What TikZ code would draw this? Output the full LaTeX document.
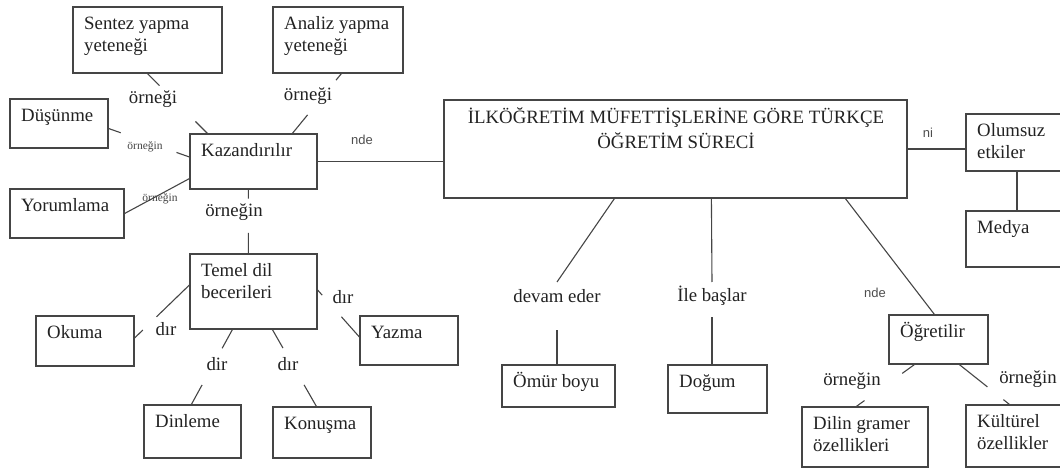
\documentclass[tikz,border=0pt]{standalone}
\usepackage{fontspec}
\setmainfont{Liberation Serif}
\newfontfamily\labelsans{Liberation Sans}
\usetikzlibrary{calc,fit}

\definecolor{ink}{HTML}{222222}
\definecolor{edge}{HTML}{454545}

\tikzset{
  box/.style={draw=edge, line width=1.2pt, inner sep=0pt, fit={#1}},
  boxtext/.style={anchor=north west, inner sep=0pt, align=left, text=ink,
                  font=\fontsize{18.8}{22}\selectfont},
  titletext/.style={anchor=north, inner sep=0pt, align=center, text=ink,
                  font=\fontsize{18.8}{25}\selectfont},
  lbl/.style={text=ink, inner sep=1pt, font=\fontsize{18.8}{22}\selectfont},
  sanslbl/.style={text=ink!80, inner sep=1pt, font=\labelsans\fontsize{13}{15}\selectfont},
  tinylbl/.style={text=ink!85, inner sep=1pt, font=\fontsize{11.5}{13}\selectfont},
  link/.style={draw=edge, line width=1.1pt},
}

% concept box: name, left, top, right, bottom, text (top-left aligned)
\newcommand\conceptbox[6]{%
  \node[box={(#2,#3)(#4,#5)}] (#1) {};
  \node[boxtext] (#1-text) at ($(#2,#3)+(11,6.6)$) {\strut #6};
}
% straight connector with a gap between fractions #3 and #4
\newcommand\gapline[4]{%
  \draw[link] (#1) -- ($(#1)!#3!(#2)$) ($(#1)!#4!(#2)$) -- (#2);
}

\begin{document}
\begin{tikzpicture}[x=1pt,y=-1pt]
\useasboundingbox (0,0) rectangle (1060,470);
\clip (0,0) rectangle (1060,470);

% ---- boxes ----
\conceptbox{sentez}{73}{7}{222}{73}{Sentez yapma\\yeteneği}
\conceptbox{analiz}{273}{7}{403}{73}{Analiz yapma\\yeteneği}
\conceptbox{dusunme}{10}{99}{108}{148}{Düşünme}
\conceptbox{kazan}{190}{134}{317}{189}{Kazandırılır}
\conceptbox{yorum}{10}{189}{124}{238}{Yorumlama}
\conceptbox{temel}{190}{254}{317}{329}{Temel dil\\becerileri}
\conceptbox{okuma}{36}{316}{134}{366}{Okuma}
\conceptbox{yazma}{360}{316}{458}{365}{Yazma}
\conceptbox{dinleme}{144}{405}{241}{458}{Dinleme}
\conceptbox{konusma}{273}{407}{371}{458}{Konuşma}
\conceptbox{omur}{502}{365}{615}{407}{Ömür boyu}
\conceptbox{dogum}{668}{365}{767}{413}{Doğum}
\conceptbox{ogret}{889}{315}{988}{364}{Öğretilir}
\conceptbox{dilin}{802}{407}{928}{467}{Dilin gramer\\özellikleri}
\conceptbox{kultur}{966}{405}{1068}{467}{Kültürel\\özellikler}
\conceptbox{olumsuz}{966}{114}{1068}{171}{Olumsuz\\etkiler}
\conceptbox{medya}{966}{211}{1068}{267}{Medya}

\node[box={(444,100)(907,198)}] (main) {};
\node[titletext] (main-text) at (676,105.5)
  {\strut İLKÖĞRETİM MÜFETTİŞLERİNE GÖRE TÜRKÇE\\ÖĞRETİM SÜRECİ};

% ---- link labels ----
\node[lbl] (l-sentez) at (153,99) {örneği};
\node[lbl] (l-analiz) at (308,96) {örneği};
\node[tinylbl] (l-dusun) at (145,147) {örneğin};
\node[tinylbl] (l-yorum) at (160,199) {örneğin};
\node[lbl] (l-kazan) at (234,212) {örneğin};
\node[sanslbl] (l-nde1) at (362,140) {nde};
\node[sanslbl] (l-ni) at (928,133) {ni};
\node[lbl] (devam) at (557,296) {devam eder};
\node[lbl] (ile) at (712,296) {İle başlar};
\node[sanslbl] (l-nde2) at (875,293) {nde};
\node[lbl] (l-dilin) at (852,381) {örneğin};
\node[lbl] (l-kultur) at (1028,379) {örneğin};
\node[lbl] (l-okuma) at (166,329) {dır};
\node[lbl] (l-yazma) at (343,297) {dır};
\node[lbl] (l-dinle) at (217,364) {dir};
\node[lbl] (l-konus) at (288,364) {dır};

% ---- attachment points ----
\coordinate (k1) at ($(kazan.north west)+(18,0)$);
\coordinate (a1) at ($(analiz.south west)+(69,0)$);
\coordinate (k2) at ($(kazan.north west)+(103,0)$);
\coordinate (d1) at ($(dusunme.east)+(0,5)$);
\coordinate (k3) at ($(kazan.west)+(0,-4.5)$);
\coordinate (k4) at ($(kazan.south west)+(0,-11)$);
\coordinate (k5) at ($(kazan.south west)+(59,0)$);
\coordinate (t0) at ($(temel.north west)+(59,0)$);
\coordinate (m1) at ($(main.south west)+(171,0)$);
\coordinate (m2) at ($(main.south west)+(268,0)$);
\coordinate (m3) at ($(main.south west)+(402,0)$);
\coordinate (o1) at ($(ogret.north west)+(46,0)$);
\coordinate (o2) at ($(ogret.south west)+(26,0)$);
\coordinate (o3) at ($(ogret.south west)+(71,0)$);
\coordinate (dl) at ($(dilin.north west)+(55,0)$);
\coordinate (ku) at ($(kultur.north west)+(44,0)$);
\coordinate (t1) at ($(temel.west)+(0,-6.5)$);
\coordinate (ok) at ($(okuma.east)+(0,-3)$);
\coordinate (t2) at ($(temel.east)+(0,-1.5)$);
\coordinate (yz) at ($(yazma.west)+(0,-3.5)$);
\coordinate (t3) at ($(temel.south west)+(43,0)$);
\coordinate (dn) at ($(dinleme.north west)+(48,0)$);
\coordinate (t4) at ($(temel.south west)+(83,0)$);
\coordinate (kn) at ($(konusma.north west)+(44,0)$);

% ---- connectors ----
\gapline{sentez.south}{k1}{0.2}{0.8}
\gapline{a1}{k2}{0.11}{0.69}
\gapline{d1}{k3}{0.15}{0.84}
\draw[link] (yorum.east) -- (k4);
\gapline{k5}{t0}{0.14}{0.68}
\draw[link] (kazan.east) -- (kazan.east -| main.west);
\draw[link] (main.east) -- (main.east -| olumsuz.west);
\draw[link] (olumsuz.south) -- (medya.north);

\draw[link] (m1) -- ($(devam)+(0,-14)$);
\draw[link] ($(devam)+(0,34)$) -- (devam |- omur.north);
\draw[link] (m2) -- ($(ile)+(0,-14)$);
\draw[link] ($(ile)+(0,21)$) -- (ile |- dogum.north);
\draw[link] (m3) -- (o1);
\gapline{o2}{dl}{0.21}{0.86}
\gapline{o3}{ku}{0.56}{0.88}

\gapline{t1}{ok}{0.6}{0.85}
\gapline{t2}{yz}{0.11}{0.57}
\gapline{t3}{dn}{0.25}{0.74}
\gapline{t4}{kn}{0.24}{0.72}
\end{tikzpicture}
\end{document}
